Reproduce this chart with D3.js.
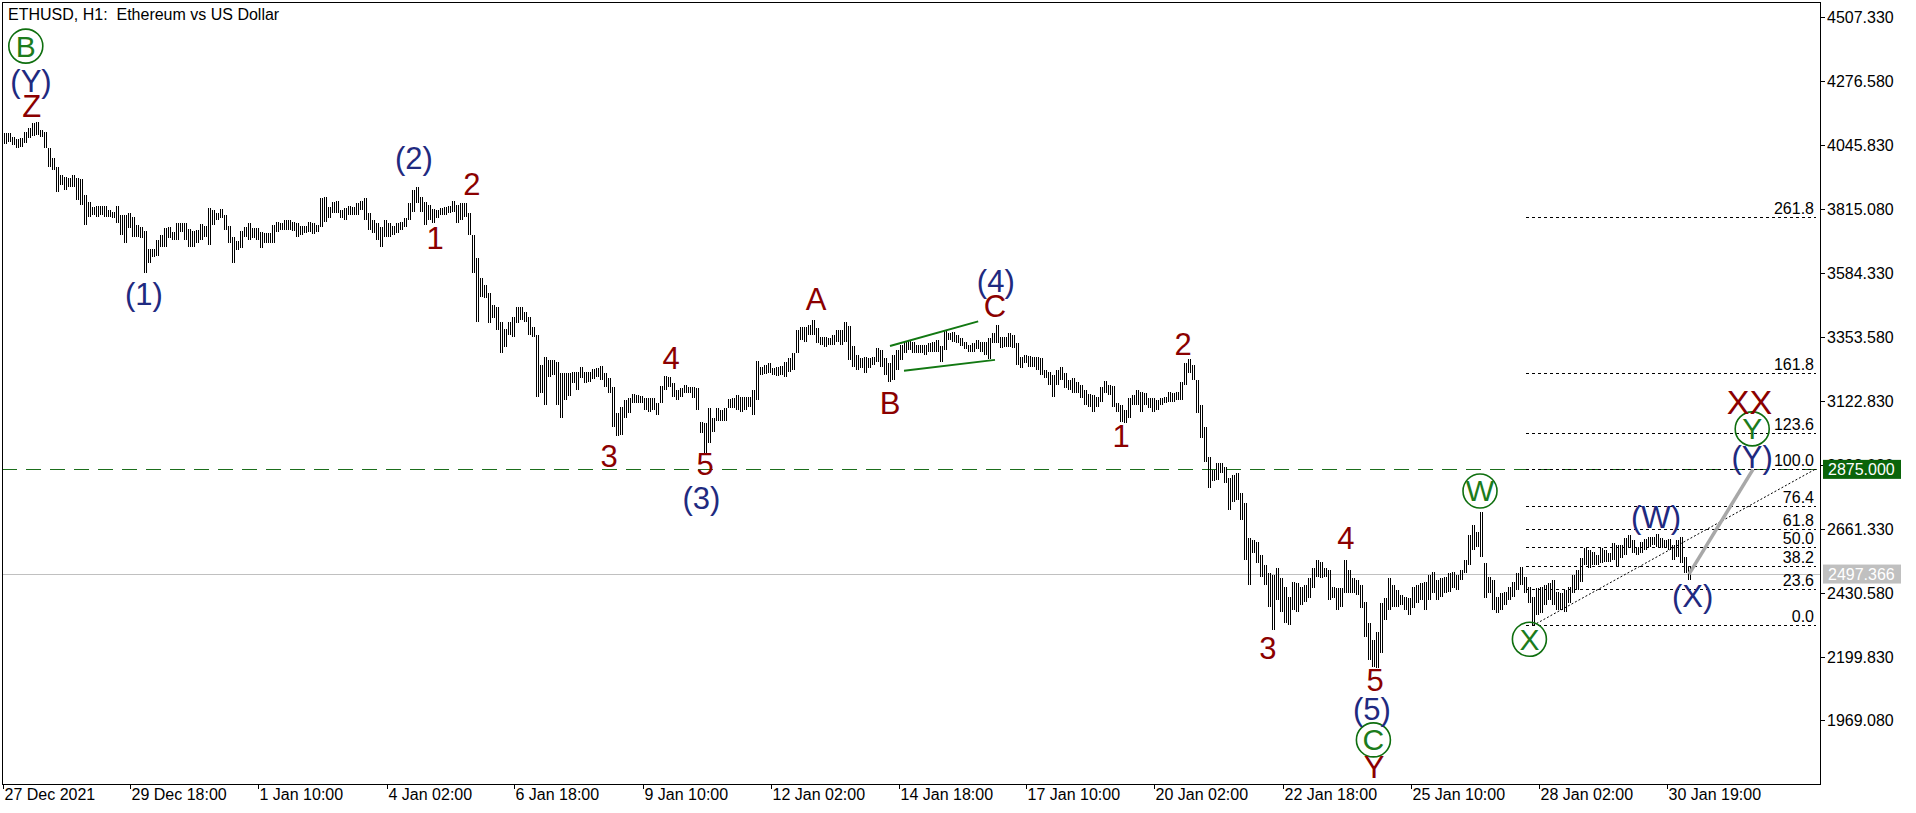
<!DOCTYPE html>
<html><head><meta charset="utf-8">
<script src="https://cdn.jsdelivr.net/npm/d3@7"></script>
<style>
html,body{margin:0;padding:0;background:#fff;overflow:hidden}
svg{display:block}
text{font-family:"Liberation Sans",Arial,sans-serif}
</style></head><body>
<svg id="c" width="1916" height="813"></svg>
<script>
// ETHUSD 2-hour bar highs / lows
const highs=[4087,4087,4073,4066,4069,4093,4105,4125,4129,4099,
4093,4033,3997,3967,3937,3931,3925,3937,3925,3921,
3865,3840,3820,3825,3825,3825,3810,3804,3825,3792,
3792,3801,3786,3756,3750,3736,3669,3669,3702,3720,
3744,3750,3732,3763,3763,3765,3741,3736,3738,3760,
3753,3817,3810,3801,3813,3792,3753,3714,3700,3736,
3748,3763,3744,3744,3732,3726,3729,3756,3768,3763,
3774,3774,3768,3763,3753,3753,3768,3763,3756,3853,
3856,3822,3840,3844,3810,3817,3825,3820,3835,3844,
3853,3799,3774,3763,3750,3774,3763,3753,3763,3768,
3781,3837,3883,3892,3858,3840,3829,3813,3810,3817,
3820,3825,3844,3829,3835,3835,3799,3720,3636,3564,
3540,3510,3468,3462,3408,3380,3408,3426,3462,3460,
3444,3426,3390,3360,3251,3281,3270,3270,3263,3221,
3223,3223,3227,3227,3243,3227,3227,3236,3239,3248,
3221,3203,3173,3077,3101,3125,3131,3147,3143,3140,
3131,3131,3131,3113,3176,3212,3209,3185,3161,3167,
3178,3173,3171,3167,3047,3041,3095,3059,3095,3089,
3095,3128,3131,3143,3137,3135,3137,3161,3267,3245,
3251,3258,3239,3245,3248,3263,3276,3294,3378,3387,
3390,3396,3414,3384,3353,3353,3348,3360,3378,3378,
3408,3392,3320,3287,3276,3281,3276,3281,3312,3305,
3276,3258,3287,3305,3324,3335,3342,3335,3324,3324,
3324,3330,3335,3342,3320,3375,3368,3372,3360,3348,
3335,3324,3330,3342,3335,3335,3348,3366,3396,3353,
3353,3366,3360,3330,3281,3287,3284,3281,3279,3276,
3233,3227,3215,3233,3245,3221,3197,3203,3191,3179,
3161,3147,3143,3137,3173,3195,3179,3176,3113,3107,
3089,3131,3143,3161,3155,3149,3131,3131,3125,3131,
3137,3155,3149,3155,3191,3260,3272,3251,3197,3107,
3029,2921,2873,2897,2897,2885,2843,2855,2861,2789,
2753,2626,2620,2614,2566,2530,2500,2494,2518,2482,
2452,2416,2470,2464,2452,2458,2482,2518,2548,2542,
2518,2512,2452,2446,2446,2548,2512,2482,2476,2458,
2398,2320,2259,2289,2392,2410,2482,2458,2440,2422,
2415,2411,2452,2458,2464,2470,2494,2506,2476,2482,
2488,2500,2506,2494,2512,2548,2638,2674,2650,2722,
2536,2488,2476,2416,2428,2434,2452,2470,2500,2524,
2488,2452,2416,2446,2452,2458,2464,2476,2434,2428,
2440,2452,2494,2512,2554,2590,2584,2578,2566,2590,
2584,2572,2608,2602,2602,2626,2638,2620,2596,2614,
2623,2632,2632,2642,2626,2620,2623,2602,2620,2632,
2560,2524];
const lows=[4049,4057,4045,4033,4039,4053,4069,4077,4081,4073,
4033,3967,3955,3877,3901,3883,3892,3892,3847,3829,
3756,3786,3792,3784,3792,3786,3784,3781,3763,3720,
3693,3744,3712,3712,3708,3582,3618,3642,3645,3678,
3676,3708,3702,3702,3732,3702,3678,3678,3690,3702,
3714,3684,3756,3774,3781,3738,3690,3618,3666,3672,
3714,3702,3708,3702,3672,3693,3690,3690,3732,3738,
3738,3738,3736,3714,3720,3729,3732,3724,3732,3750,
3768,3781,3799,3799,3781,3774,3792,3792,3792,3810,
3774,3738,3726,3702,3678,3714,3714,3720,3726,3738,
3748,3774,3804,3835,3804,3756,3774,3765,3781,3792,
3792,3799,3804,3763,3774,3786,3720,3582,3408,3498,
3492,3402,3420,3378,3294,3317,3360,3353,3402,3414,
3408,3360,3353,3137,3149,3107,3209,3215,3107,3059,
3125,3140,3185,3161,3203,3185,3191,3200,3207,3197,
3173,3149,3029,2995,2999,3059,3077,3113,3115,3113,
3089,3083,3089,3071,3113,3161,3173,3137,3125,3137,
3149,3149,3131,3089,3005,2933,2969,3011,3050,3050,
3050,3095,3095,3089,3083,3089,3101,3071,3125,3215,
3219,3221,3215,3212,3215,3207,3227,3233,3294,3342,
3335,3360,3360,3330,3324,3317,3324,3324,3335,3324,
3335,3270,3245,3233,3239,3221,3239,3251,3263,3245,
3215,3191,3197,3233,3270,3294,3305,3294,3294,3294,
3287,3299,3299,3299,3263,3305,3342,3335,3330,3320,
3308,3299,3299,3308,3299,3287,3272,3330,3330,3312,
3317,3317,3312,3251,3239,3258,3245,3245,3233,3215,
3203,3179,3137,3179,3197,3167,3161,3149,3149,3131,
3107,3101,3083,3101,3119,3149,3143,3101,3083,3047,
3042,3059,3107,3107,3083,3107,3095,3083,3089,3107,
3113,3119,3119,3125,3125,3179,3221,3197,3077,2987,
2903,2807,2834,2837,2861,2825,2728,2758,2765,2692,
2548,2458,2572,2536,2488,2458,2380,2296,2404,2362,
2320,2314,2368,2362,2386,2398,2410,2446,2488,2482,
2488,2404,2410,2368,2380,2428,2428,2428,2422,2374,
2271,2187,2163,2157,2211,2332,2368,2380,2380,2386,
2368,2350,2374,2392,2404,2368,2404,2428,2404,2416,
2428,2434,2446,2440,2476,2500,2530,2584,2596,2560,
2410,2428,2368,2356,2368,2386,2404,2416,2440,2458,
2428,2392,2313,2350,2356,2386,2404,2386,2368,2368,
2362,2392,2428,2440,2470,2530,2518,2530,2530,2536,
2542,2542,2548,2524,2554,2566,2590,2572,2566,2572,
2584,2596,2602,2596,2590,2590,2584,2548,2560,2536,
2500,2476];

const timeLabels=["27 Dec 2021","29 Dec 18:00","1 Jan 10:00","4 Jan 02:00","6 Jan 18:00","9 Jan 10:00","12 Jan 02:00","14 Jan 18:00","17 Jan 10:00","20 Jan 02:00","22 Jan 18:00","25 Jan 10:00","28 Jan 02:00","30 Jan 19:00"];
const timeTickBars=[0,32,64,96,128,160,192,224,256,288,320,352,384,416];
const priceTicks=[4507.33,4276.58,4045.83,3815.08,3584.33,3353.58,3122.83,2892.08,2661.33,2430.58,2199.83,1969.08];
const fibLevels=[0,23.6,38.2,50,61.8,76.4,100,123.6,161.8,261.8];
const fibBase=2312, fibTarget=2875;
const lastPrice=2497.366;
const targetPrice=2875;

const redLabels=[["Z",6.7,4183],["2",116.7,3901],["1",107.5,3708],["3",151,2923],["4",166.5,3276],["5",175,2894],
["A",202.75,3486],["B",221.25,3113],["C",247.5,3462],["1",279,2992],["2",294.5,3324],["3",315.7,2230],
["4",335.2,2626],["5",342.5,2112],["Y",342.25,1798],["XX",436.1,3119]];
const blueLabels=[["(Y)",6.5,4273],["(1)",34.75,3506],["(2)",102.25,3998],["(3)",174.1,2770],["(4)",247.7,3552],
["(5)",341.75,2007],["(W)",412.75,2702],["(X)",421.9,2416],["(Y)",436.8,2919]];
const circleLabels=[["B",5.2,4402],["C",342.1,1899],["W",368.75,2797],["X",381.1,2262],["Y",436.8,3021]];
const triangleLines=[[221.25,3320,243.3,3409],[224.75,3231,247.5,3270]];

const svg=d3.select("#c");
const L=2,T=2,R=1820,B=784;
const x=d3.scaleLinear().domain([-0.5,453.75]).range([3,1820]);
const y=d3.scaleLinear().domain([1740,4561]).range([784,2]);
const px=v=>Math.round(v)+0.5;

svg.append("defs").append("clipPath").attr("id","clip").append("rect")
  .attr("x",L).attr("y",T).attr("width",R-L).attr("height",B-T);

const plot=svg.append("g").attr("clip-path","url(#clip)");

// last price line
plot.append("line").attr("x1",L).attr("x2",R).attr("y1",px(y(lastPrice))).attr("y2",px(y(lastPrice)))
  .attr("stroke","#c0c0c0").attr("stroke-width",1);
// target dashed green
plot.append("line").attr("x1",L).attr("x2",R).attr("y1",px(y(targetPrice))).attr("y2",px(y(targetPrice)))
  .attr("stroke","#1b6e1b").attr("stroke-width",1).attr("stroke-dasharray","15,9");

// fib levels
const fx1=x(380.25), fx2=x(452.75);
fibLevels.forEach(l=>{
  const p=fibBase+(fibTarget-fibBase)*l/100, yy=px(y(p));
  plot.append("line").attr("x1",fx1).attr("x2",fx2).attr("y1",yy).attr("y2",yy)
    .attr("stroke","#000").attr("stroke-width",1).attr("stroke-dasharray","3,3");
  plot.append("text").attr("x",fx2-2).attr("y",yy-4).attr("text-anchor","end")
    .attr("font-size",16).attr("fill","#000").text(l.toFixed(1));
});
// fib trend dotted
plot.append("line").attr("x1",x(382)).attr("y1",y(fibBase)).attr("x2",x(452.5)).attr("y2",y(fibTarget))
  .attr("stroke","#000").attr("stroke-width",1).attr("stroke-dasharray","2,2");

// bars (each 2h bar drawn as a pair of hourly-width ticks)
let d="";
highs.forEach((h,j)=>{
  const cx=Math.round(x(j)), yh=Math.round(y(h)), yl=Math.max(Math.round(y(lows[j])),yh+1);
  d+=`M${cx-0.5},${yh}V${yl}M${cx+1.5},${yh}V${yl}`;
});
plot.append("path").attr("d",d).attr("stroke","#000").attr("stroke-width",1).attr("fill","none");

// projection line
plot.append("line").attr("x1",x(421)).attr("y1",y(lastPrice)).attr("x2",x(437)).attr("y2",y(targetPrice))
  .attr("stroke","#a8a8a8").attr("stroke-width",3.5);

// triangle lines
triangleLines.forEach(t=>{
  plot.append("line").attr("x1",x(t[0])).attr("y1",y(t[1])).attr("x2",x(t[2])).attr("y2",y(t[3]))
    .attr("stroke","#127812").attr("stroke-width",2);
});

// wave labels
circleLabels.forEach(c=>{
  plot.append("circle").attr("cx",x(c[1])).attr("cy",y(c[2])).attr("r",17)
    .attr("fill","none").attr("stroke","#0f6f0f").attr("stroke-width",1.6);
  plot.append("text").attr("x",x(c[1])).attr("y",y(c[2])).attr("text-anchor","middle")
    .attr("dominant-baseline","central").attr("font-size",30).attr("fill","#1c7c1c").text(c[0]);
});
redLabels.forEach(c=>{
  plot.append("text").attr("x",x(c[1])).attr("y",y(c[2])).attr("text-anchor","middle")
    .attr("dominant-baseline","central").attr("font-size",c[0]==="XX"?34:31).attr("fill","#8b0000")
    .text(c[0]);
});
blueLabels.forEach(c=>{
  plot.append("text").attr("x",x(c[1])).attr("y",y(c[2])).attr("text-anchor","middle")
    .attr("dominant-baseline","central").attr("font-size",31).attr("fill","#1f2a80").text(c[0]);
});

// frame
svg.append("rect").attr("x",L+0.5).attr("y",T+0.5).attr("width",R-L).attr("height",B-T)
  .attr("fill","none").attr("stroke","#000").attr("stroke-width",1);

// title
svg.append("text").attr("x",8).attr("y",20).attr("font-size",16).attr("fill","#000")
  .attr("xml:space","preserve").style("white-space","pre").text("ETHUSD, H1:  Ethereum vs US Dollar");

// right axis
priceTicks.forEach(p=>{
  const yy=px(y(p));
  svg.append("line").attr("x1",R).attr("x2",R+5).attr("y1",yy).attr("y2",yy).attr("stroke","#000");
  svg.append("text").attr("x",R+7).attr("y",yy).attr("dominant-baseline","central")
    .attr("font-size",16).attr("fill","#000").text(p.toFixed(3));
});
function priceBox(p,fill){
  const yy=y(p);
  svg.append("rect").attr("x",R+3).attr("y",yy-9.5).attr("width",78).attr("height",19).attr("fill",fill);
  svg.append("text").attr("x",R+8).attr("y",yy).attr("dominant-baseline","central")
    .attr("font-size",16).attr("fill","#fff").text(p.toFixed(3));
}
priceBox(targetPrice,"#0a640a");
priceBox(lastPrice,"#c0c0c0");

// time axis
timeTickBars.forEach((b,k)=>{
  const xx=px(x(b-0.5)-0.5);
  svg.append("line").attr("x1",xx).attr("x2",xx).attr("y1",B).attr("y2",B+5).attr("stroke","#000");
  svg.append("text").attr("x",xx+1).attr("y",800).attr("font-size",16).attr("fill","#000").text(timeLabels[k]);
});
</script></body></html>
